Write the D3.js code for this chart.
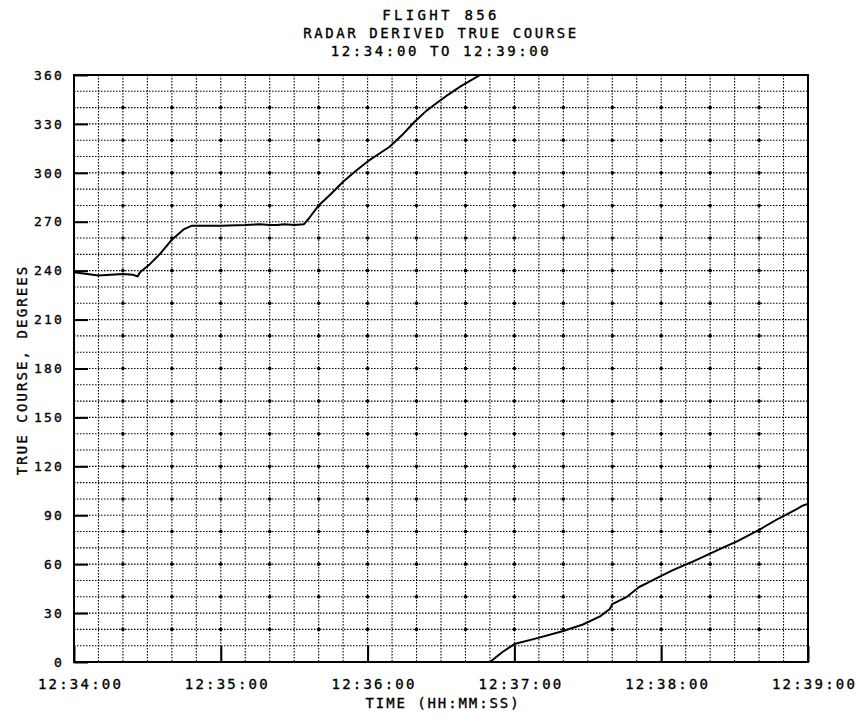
<!DOCTYPE html>
<head>
  <meta charset="utf-8">
  <title>Flight 856 true course</title>
</head>
<style media="screen">
  body {
    margin: 0;
    background: white;
  }
  text {
    font-family: "DejaVu Sans Mono", monospace;
    fill: black;
    stroke: black;
    stroke-width: 0.35px;
  }
  .grid line {
    stroke: black;
    stroke-width: 1.1;
    stroke-dasharray: 1.5, 1.5;
  }
  .course {
    fill: none;
    stroke: black;
    stroke-width: 2;
    stroke-linejoin: round;
  }
</style>

<body>
  <svg id="svg_chart" width="857" height="716"></svg>
  <script src="https://d3js.org/d3.v7.min.js"></script>
  <script>
    // title lines
    var titleLines = ["FLIGHT 856", "RADAR DERIVED TRUE COURSE", "12:34:00 TO 12:39:00"]

    // x ticks, seconds after 12:34:00
    var xTickSeconds = [0, 60, 120, 180, 240, 300]
    var xTickLabels = ["12:34:00", "12:35:00", "12:36:00", "12:37:00", "12:38:00", "12:39:00"]
    var yTicks = [0, 30, 60, 90, 120, 150, 180, 210, 240, 270, 300, 330, 360]

    // first trace, up to the 360 wrap
    var seg1Seconds = [0, 10, 20, 24, 26, 27, 31, 35, 40, 45, 48, 60, 70, 76, 80, 83, 86, 90, 94, 96, 100, 105, 110, 115, 120, 125, 129, 134, 139, 144, 148, 153, 158, 162, 166]
    var seg1Course = [239, 237, 238, 237.5, 236.5, 239, 244, 250, 259, 265.5, 267.5, 267.5, 268, 268.5, 268, 268, 268.5, 268, 268.5, 272, 280, 287, 294.5, 301, 307, 312, 316, 323, 331, 338, 342.5, 348, 353, 356.5, 360]

    // second trace, after the wrap to 0
    var seg2Seconds = [170, 175, 180, 189, 200, 208, 215, 219, 220, 226, 231, 235, 239, 245, 252, 260, 265, 271, 280, 288, 295, 298, 300]
    var seg2Course = [0, 6, 11, 14.5, 19, 23, 28, 32.5, 35.5, 40, 46, 49, 52, 56.5, 61, 66.5, 70, 74, 81, 88, 93.5, 96, 97]

    var svg = d3.select("#svg_chart"),
        plotLeft = 74, plotRight = 808, plotTop = 75, plotBottom = 662

    var x = d3.scaleLinear().domain([0, 300]).range([plotLeft, plotRight])
    var y = d3.scaleLinear().domain([0, 360]).range([plotBottom, plotTop])

    // dotted grid, 10 s by 10 degrees
    var gx = d3.range(10, 300, 10)
    var gy = d3.range(10, 360, 10)
    var grid = svg.append("g").attr("class", "grid")
    grid.selectAll(".vx").data(gx).enter().append("line")
      .attr("x1", d => x(d)).attr("x2", d => x(d))
      .attr("y1", plotTop).attr("y2", plotBottom)
    grid.selectAll(".hy").data(gy).enter().append("line")
      .attr("x1", plotLeft).attr("x2", plotRight)
      .attr("y1", d => y(d)).attr("y2", d => y(d))

    // heavier dots where the dotted lines cross
    var crossings = []
    gx.forEach(function(s) {
      gy.forEach(function(c) {
        if (s % 20 == 0 && c % 20 == 0) crossings.push([s, c])
      })
    })
    svg.append("g").selectAll("circle").data(crossings).enter().append("circle")
      .attr("cx", d => x(d[0]))
      .attr("cy", d => y(d[1]))
      .attr("r", 1.8)
      .style("fill", "black")

    // axes with inward ticks
    var yAxis = svg.append("g")
      .attr("transform", "translate(" + plotLeft + ",0)")
      .call(d3.axisLeft(y).tickValues(yTicks).tickSize(-14).tickPadding(10))
    yAxis.select(".domain").remove()
    yAxis.selectAll("line").attr("stroke", "black").attr("stroke-width", 2)
    yAxis.selectAll("text")
      .attr("font-family", "DejaVu Sans Mono")
      .attr("font-size", 13)
      .attr("letter-spacing", 2.2)

    var xAxis = svg.append("g")
      .attr("transform", "translate(0," + plotBottom + ")")
      .call(d3.axisBottom(x).tickValues(xTickSeconds).tickSize(-16).tickPadding(17)
        .tickFormat((d, i) => xTickLabels[i]))
    xAxis.select(".domain").remove()
    xAxis.selectAll("line").attr("stroke", "black").attr("stroke-width", 2)
    xAxis.selectAll("text")
      .attr("font-family", "DejaVu Sans Mono")
      .attr("font-size", 14)
      .attr("letter-spacing", 2.2)
      .attr("dx", 6)

    // frame
    svg.append("rect")
      .attr("x", plotLeft).attr("y", plotTop)
      .attr("width", plotRight - plotLeft).attr("height", plotBottom - plotTop)
      .style("fill", "none")
      .style("stroke", "black")
      .style("stroke-width", 2)

    // traces
    var line = d3.line().x(d => x(d[0])).y(d => y(d[1]))
    svg.append("path").attr("class", "course")
      .attr("d", line(d3.zip(seg1Seconds, seg1Course)))
    svg.append("path").attr("class", "course")
      .attr("d", line(d3.zip(seg2Seconds, seg2Course)))

    // titles
    var spacing = [3.3, 2.6, 2.6]
    svg.selectAll(".title").data(titleLines).enter().append("text")
      .attr("class", "title")
      .attr("x", 441)
      .attr("y", (d, i) => 20 + i * 18)
      .attr("text-anchor", "middle")
      .attr("font-size", 14)
      .attr("letter-spacing", (d, i) => spacing[i])
      .text(d => d)

    svg.append("text")
      .attr("x", 443)
      .attr("y", 708)
      .attr("text-anchor", "middle")
      .attr("font-size", 14)
      .attr("letter-spacing", 1.9)
      .text("TIME (HH:MM:SS)")

    svg.append("text")
      .attr("transform", "translate(27,370) rotate(-90)")
      .attr("text-anchor", "middle")
      .attr("font-size", 14)
      .attr("letter-spacing", 2.1)
      .text("TRUE COURSE, DEGREES")
  </script>
</body>

</html>
